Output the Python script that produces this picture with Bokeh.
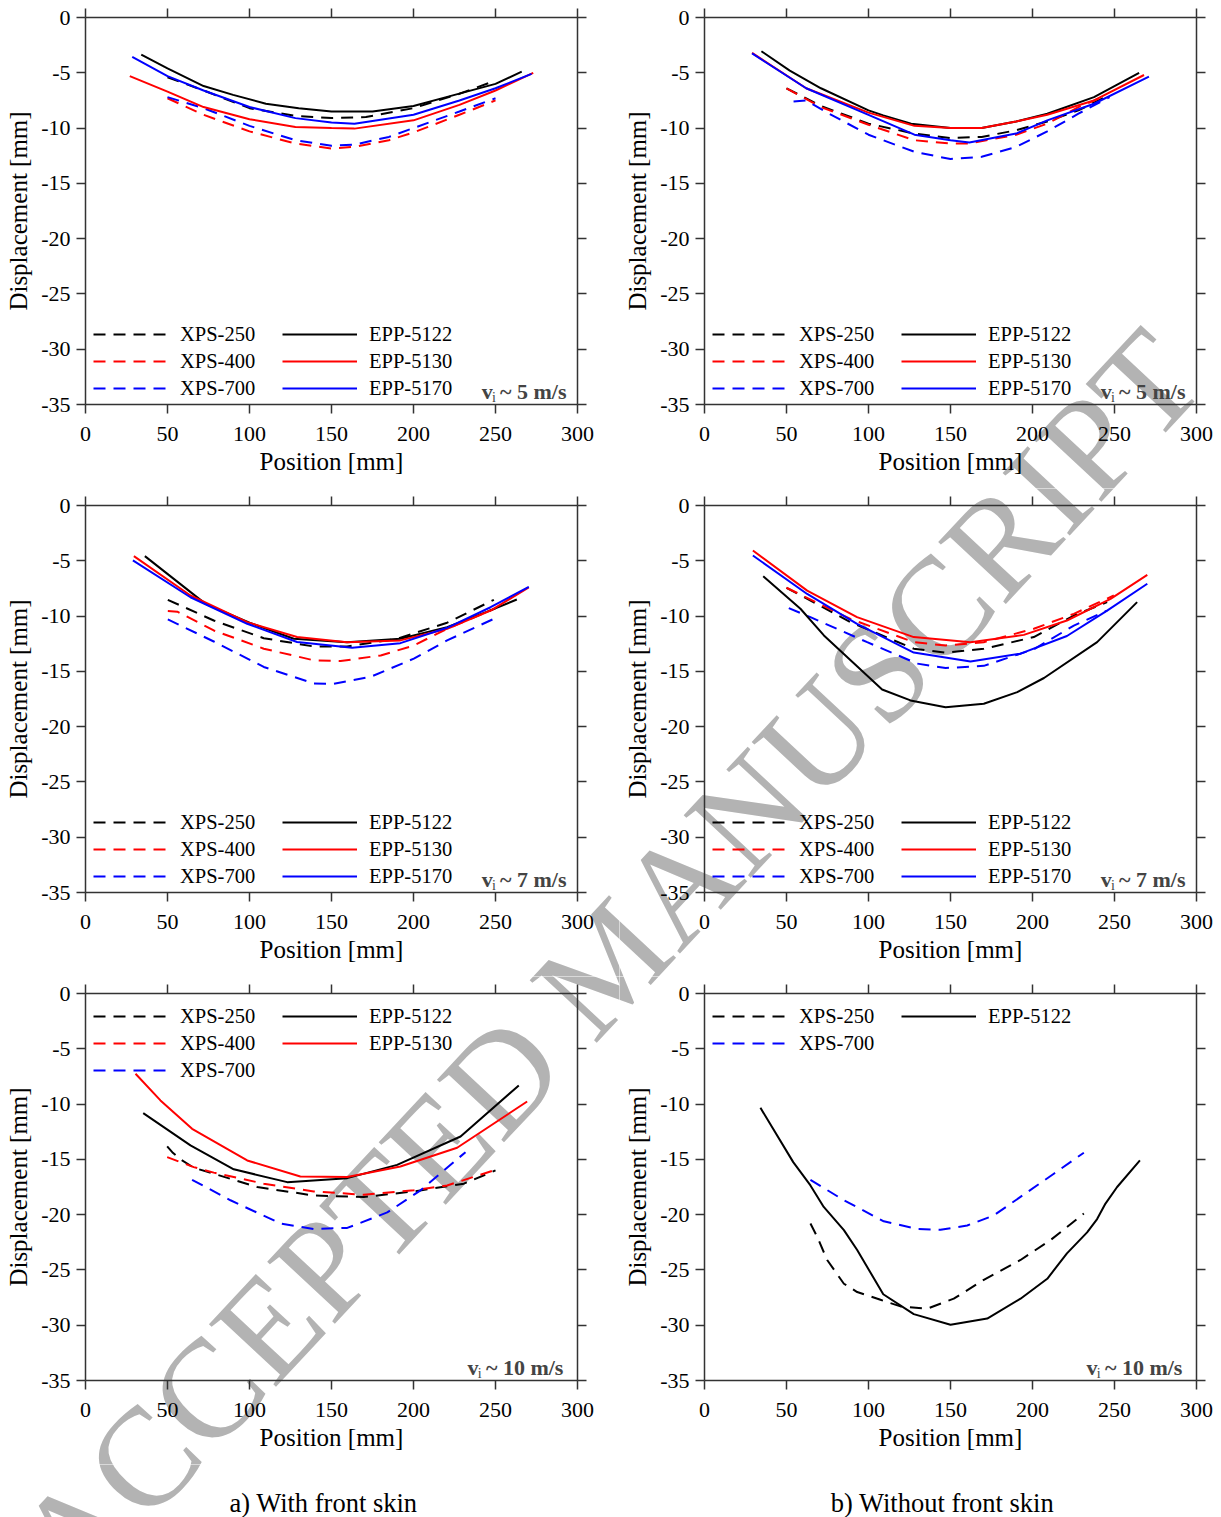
import math
from bokeh.plotting import figure
from bokeh.models import Range1d, LinearAxis, FixedTicker, Legend, LegendItem, Label
from bokeh.layouts import column, row
from bokeh.embed import file_html
from bokeh.resources import INLINE

# ---------------- ticks ----------------
x_ticks = [0, 50, 100, 150, 200, 250, 300]
x_tick_labels = ["0", "50", "100", "150", "200", "250", "300"]
y_ticks = [0, -5, -10, -15, -20, -25, -30, -35]
y_tick_labels = ["0", "-5", "-10", "-15", "-20", "-25", "-30", "-35"]

# ---------------- a) with front skin, v ~ 5 m/s ----------------
w5_xps250_x = [50, 72, 100, 128, 150, 171, 200, 228, 250]
w5_xps250_y = [-5.4, -6.6, -8.2, -8.9, -9.1, -9.0, -8.2, -6.9, -5.7]
w5_xps400_x = [50, 72, 100, 128, 150, 164, 185, 200, 228, 250]
w5_xps400_y = [-7.3, -8.8, -10.3, -11.4, -11.85, -11.7, -11.1, -10.4, -8.8, -7.5]
w5_xps700_x = [50, 72, 100, 128, 150, 164, 185, 200, 228, 250]
w5_xps700_y = [-7.2, -8.2, -9.8, -11.1, -11.6, -11.5, -10.8, -10.0, -8.5, -7.3]
w5_epp5122_x = [34, 50, 72, 90, 110, 130, 150, 175, 200, 220, 250, 266]
w5_epp5122_y = [-3.35, -4.6, -6.2, -7.0, -7.8, -8.2, -8.5, -8.5, -8.0, -7.2, -6.0, -4.9]
w5_epp5130_x = [27, 50, 72, 100, 128, 150, 164, 200, 228, 250, 273]
w5_epp5130_y = [-5.3, -6.7, -8.1, -9.2, -9.9, -10.0, -10.05, -9.3, -7.9, -6.6, -5.0]
w5_epp5170_x = [28.5, 50, 72, 100, 128, 150, 164, 200, 228, 250, 272]
w5_epp5170_y = [-3.55, -5.3, -6.6, -8.1, -9.1, -9.5, -9.6, -8.8, -7.5, -6.4, -5.1]

# ---------------- b) without front skin, v ~ 5 m/s ----------------
o5_xps250_x = [50, 71, 100, 128, 150, 169, 190, 209, 228, 247]
o5_xps250_y = [-6.4, -8.0, -9.6, -10.5, -10.9, -10.8, -10.2, -9.4, -8.4, -7.0]
o5_xps400_x = [50, 71, 100, 128, 150, 161.5, 190, 209, 228, 245]
o5_xps400_y = [-6.4, -8.1, -9.7, -11.1, -11.4, -11.4, -10.6, -9.6, -8.1, -7.05]
o5_xps700_x = [54.3, 62, 76, 100, 128, 150, 169, 190, 209, 228, 247]
o5_xps700_y = [-7.6, -7.5, -8.7, -10.6, -12.15, -12.8, -12.6, -11.7, -10.3, -8.7, -7.2]
o5_epp5122_x = [34.7, 52, 71, 100, 109, 126, 150, 169, 190, 209, 237.5, 265]
o5_epp5122_y = [-3.05, -4.8, -6.4, -8.4, -8.85, -9.6, -10.0, -10.0, -9.4, -8.7, -7.2, -5.0]
o5_epp5130_x = [29, 62, 100, 128, 150, 169, 190, 209, 237.5, 268]
o5_epp5130_y = [-3.2, -6.4, -8.6, -9.8, -10.0, -10.0, -9.4, -8.8, -7.5, -5.2]
o5_epp5170_x = [29, 62, 100, 128, 150, 161.5, 190, 209, 237.5, 271]
o5_epp5170_y = [-3.25, -6.4, -8.8, -10.6, -11.1, -11.3, -10.5, -9.3, -7.8, -5.35]

# ---------------- a) with front skin, v ~ 7 m/s ----------------
w7_xps250_x = [50.2, 78.2, 108.7, 139.2, 159.5, 190, 220.5, 249]
w7_xps250_y = [-8.53, -10.4, -12.0, -12.75, -12.75, -12.05, -10.6, -8.53]
w7_xps400_x = [50.2, 56, 78.2, 108.7, 139.2, 155.5, 180, 200.2, 220.5, 250]
w7_xps400_y = [-9.55, -9.6, -11.3, -12.95, -14.0, -14.07, -13.56, -12.66, -11.15, -9.3]
w7_xps700_x = [50.2, 78.2, 108.7, 139.2, 151.4, 173.8, 200.2, 220.5, 249]
w7_xps700_y = [-10.3, -12.3, -14.6, -16.1, -16.12, -15.5, -13.85, -12.2, -10.25]
w7_epp5122_x = [36.2, 73.2, 100, 127, 159.5, 192, 220.5, 245, 263]
w7_epp5122_y = [-4.58, -8.9, -10.6, -12.05, -12.36, -12.05, -11.0, -9.6, -8.5]
w7_epp5130_x = [29.5, 64, 98.6, 129, 159.5, 192, 220.5, 247, 270.3]
w7_epp5130_y = [-4.58, -8.14, -10.55, -11.9, -12.36, -12.2, -11.15, -9.5, -7.4]
w7_epp5170_x = [28.9, 64, 98.6, 129, 162.6, 192, 220.5, 247, 270.3]
w7_epp5170_y = [-4.97, -8.3, -10.7, -12.35, -12.87, -12.45, -11.06, -9.2, -7.35]

# ---------------- b) without front skin, v ~ 7 m/s ----------------
o7_xps250_x = [50, 89, 127.6, 147, 170.3, 200.8, 225.2, 245.5]
o7_xps250_y = [-7.44, -10.55, -12.95, -13.32, -12.96, -11.9, -9.95, -8.74]
o7_xps400_x = [50, 89, 127.6, 147, 170.3, 200.8, 225.2, 249.6]
o7_xps400_y = [-7.44, -10.26, -12.36, -12.66, -12.36, -11.15, -9.8, -8.14]
o7_xps700_x = [51.4, 64.6, 99.2, 129.7, 147, 170.3, 200.8, 225.2, 245.5]
o7_xps700_y = [-9.28, -10.1, -12.36, -14.3, -14.7, -14.5, -13.0, -10.86, -9.5]
o7_epp5122_x = [35.8, 58.5, 72.8, 108.3, 125.6, 147, 170.3, 190.7, 207, 239.4, 263.8]
o7_epp5122_y = [-6.39, -9.34, -11.75, -16.64, -17.63, -18.24, -17.93, -16.88, -15.6, -12.36, -8.74]
o7_epp5130_x = [29.5, 62.6, 93, 127.6, 162.2, 194.7, 221, 247.6, 270]
o7_epp5130_y = [-4.07, -7.7, -10.1, -11.9, -12.36, -11.7, -10.4, -8.44, -6.27]
o7_epp5170_x = [29.5, 62.6, 93, 127.6, 162.2, 192.7, 221, 245.5, 270]
o7_epp5170_y = [-4.52, -8.0, -10.7, -13.3, -14.1, -13.4, -11.8, -9.5, -7.08]

# ---------------- a) with front skin, v ~ 10 m/s ----------------
w10_xps250_x = [49.8, 52.9, 58, 66, 78.2, 104.7, 139.2, 169.7, 200.2, 230.7, 250]
w10_xps250_y = [-13.83, -14.35, -15.0, -15.76, -16.3, -17.5, -18.27, -18.41, -17.9, -17.2, -16.0]
w10_xps400_x = [49.8, 66, 78.2, 108.7, 139.2, 169.7, 200.2, 220.5, 250]
w10_xps400_y = [-14.8, -15.7, -16.2, -17.2, -17.9, -18.2, -17.8, -17.36, -15.95]
w10_xps700_x = [65, 88.4, 118.9, 139.2, 159.6, 184, 204.3, 231.7]
w10_xps700_y = [-16.85, -18.7, -20.8, -21.3, -21.2, -19.8, -17.8, -14.35]
w10_epp5122_x = [35.2, 64, 90.4, 123, 159.6, 190, 228.7, 264.2]
w10_epp5122_y = [-10.82, -13.74, -15.9, -17.06, -16.7, -15.5, -12.93, -8.32]
w10_epp5130_x = [30.5, 45.7, 65, 98.6, 131, 159.6, 192, 226.6, 269.3]
w10_epp5130_y = [-7.26, -9.67, -12.24, -15.1, -16.55, -16.6, -15.64, -13.95, -9.77]

# ---------------- b) without front skin, v ~ 10 m/s ----------------
o10_xps250_x = [64.6, 68.7, 74.8, 85, 93.1, 107.3, 119.5, 135.8, 152, 170.3, 192.7, 211, 231.3]
o10_xps250_y = [-20.8, -22.0, -24.1, -26.25, -27.0, -27.7, -28.3, -28.5, -27.6, -25.9, -24.1, -22.3, -19.9]
o10_xps700_x = [64.6, 85, 109.3, 129.7, 143.9, 160.2, 176.4, 196.8, 213, 231.3]
o10_xps700_y = [-16.85, -18.7, -20.6, -21.3, -21.37, -20.98, -20.07, -17.97, -16.3, -14.4]
o10_epp5122_x = [34.1, 54.1, 64.6, 72.7, 85, 93.1, 109, 127.6, 150, 172.4, 192.7, 209, 221,
                 233.3, 239.4, 244.5, 251.6, 265.5]
o10_epp5122_y = [-10.34, -15.25, -17.36, -19.3, -21.4, -23.2, -27.2, -29.0, -29.96, -29.4, -27.6,
                 -25.8, -23.5, -21.6, -20.4, -19.0, -17.5, -15.1]

captions = ["a) With front skin", "b) Without front skin"]
speeds = ["5", "7", "10"]
watermark_text = "ACCEPTED MANUSCRIPT"

# ---------------- styling / geometry ----------------
FONT = "Liberation Serif"
AX = "#333333"
AXW = 1.5
DASH = "12 8"
COL = {"XPS-250": ("#000000", DASH), "XPS-400": ("#ff0000", DASH), "XPS-700": ("#0000ff", DASH),
       "EPP-5122": ("#000000", "solid"), "EPP-5130": ("#ff0000", "solid"), "EPP-5170": ("#0000ff", "solid")}

X0, X1, Y0, Y1 = 0, 300, -35, 0          # plotted data window
PL, PT, PW, PH = 85, 17, 492, 387         # plot rectangle inside each panel canvas (px)
SX, SY = PW / (X1 - X0), PH / (Y1 - Y0)    # px per data unit
TICK = 9

# watermark (page coordinates)
WM_CX, WM_CY = 608, 960
WM_ANGLE = math.radians(47)
WM_SIZE = "140px"
WM_COLOR = "#b3b3b3"


def add_watermark(p, fx, fy):
    p.add_layout(Label(x=WM_CX - fx, y=WM_CY - fy, x_units="canvas", y_units="canvas",
                       text=watermark_text, angle=WM_ANGLE, text_align="center",
                       text_baseline="middle", text_font=FONT, text_font_size=WM_SIZE,
                       text_color=WM_COLOR, level="underlay"))


def style_axis(ax, ticks, labels, loc, bounds, show_labels):
    ax.fixed_location = loc
    ax.bounds = bounds
    ax.ticker = FixedTicker(ticks=ticks)
    ax.major_label_overrides = {t: l for t, l in zip(ticks, labels)}
    ax.major_tick_out = TICK
    ax.major_tick_in = 0
    ax.minor_tick_line_color = None
    ax.axis_line_color = AX
    ax.axis_line_width = AXW
    ax.major_tick_line_color = AX
    ax.major_tick_line_width = AXW
    ax.major_label_text_font = FONT
    ax.major_label_text_font_size = "22px"
    ax.major_label_text_color = "#000000" if show_labels else None
    ax.axis_label_text_font = FONT
    ax.axis_label_text_font_size = "25px"
    ax.axis_label_text_font_style = "normal"
    ax.axis_label_text_color = "#000000"


def panel(series, speed, legend_top, fx, fy, w, h):
    xr = Range1d(X0 - PL / SX, X1 + (w - PL - PW) / SX)
    yr = Range1d(Y0 - (h - PT - PH) / SY, Y1 + PT / SY)
    p = figure(width=w, height=h, x_range=xr, y_range=yr, toolbar_location=None,
               output_backend="svg", min_border=0)
    p.outline_line_color = None
    p.xgrid.visible = False
    p.ygrid.visible = False
    p.background_fill_color = "white"
    p.border_fill_color = "white"
    add_watermark(p, fx, fy)

    style_axis(p.xaxis[0], x_ticks, x_tick_labels, Y0, (X0, X1), True)
    style_axis(p.yaxis[0], y_ticks, y_tick_labels, X0, (Y0, Y1), True)
    p.xaxis[0].major_label_standoff = 13
    p.yaxis[0].major_label_standoff = 6
    p.xaxis[0].axis_label = "Position [mm]"
    p.yaxis[0].axis_label = "Displacement [mm]"
    p.xaxis[0].axis_label_standoff = 4
    p.yaxis[0].axis_label_standoff = 6

    top = LinearAxis()
    style_axis(top, x_ticks, x_tick_labels, Y1, (X0, X1), False)
    p.add_layout(top, "above")
    rgt = LinearAxis()
    style_axis(rgt, y_ticks, y_tick_labels, X1, (Y0, Y1), False)
    p.add_layout(rgt, "right")

    left_items, right_items = [], []
    for name, xs, ys in series:
        c, d = COL[name]
        r = p.line(xs, ys, line_color=c, line_width=2, line_dash=d)
        (left_items if name.startswith("XPS") else right_items).append(LegendItem(label=name, renderers=[r]))

    item_h, gap = 23, 4
    base = h - PT - PH   # canvas px below the plot rectangle
    for items, vx in ((left_items, PL + 8), (right_items, PL + 197)):
        n = len(items)
        hgt = n * item_h + (n - 1) * gap
        vy = (base + PH - 11.5 - hgt) if legend_top else base + 4.5
        leg = Legend(items=items, location=(vx, vy), label_text_font=FONT,
                     label_text_font_size="20.5px", label_text_color="#000000",
                     glyph_width=75, glyph_height=20, label_height=20, label_standoff=12,
                     spacing=gap, padding=0, margin=0, border_line_color=None,
                     background_fill_alpha=0)
        p.add_layout(leg)

    # v_i ~ N m/s
    vx0 = 241.6 if speed != "10" else 233.0
    p.add_layout(Label(x=vx0, y=-33.8, text="v", text_font=FONT, text_font_style="bold",
                       text_font_size="22px", text_baseline="alphabetic"))
    p.add_layout(Label(x=vx0 + 6.2, y=-34.4, text="i", text_font=FONT,
                       text_font_size="14px", text_baseline="alphabetic"))
    p.add_layout(Label(x=vx0 + 11.2, y=-33.8, text="~ %s m/s" % speed, text_font=FONT,
                       text_font_style="bold", text_font_size="22px", text_baseline="alphabetic"))
    return p


LW, RW = 619, 602
H = 488

p1 = panel([("XPS-250", w5_xps250_x, w5_xps250_y), ("XPS-400", w5_xps400_x, w5_xps400_y),
            ("XPS-700", w5_xps700_x, w5_xps700_y), ("EPP-5122", w5_epp5122_x, w5_epp5122_y),
            ("EPP-5130", w5_epp5130_x, w5_epp5130_y), ("EPP-5170", w5_epp5170_x, w5_epp5170_y)],
           speeds[0], False, 0, 0, LW, H)
p2 = panel([("XPS-250", o5_xps250_x, o5_xps250_y), ("XPS-400", o5_xps400_x, o5_xps400_y),
            ("XPS-700", o5_xps700_x, o5_xps700_y), ("EPP-5122", o5_epp5122_x, o5_epp5122_y),
            ("EPP-5130", o5_epp5130_x, o5_epp5130_y), ("EPP-5170", o5_epp5170_x, o5_epp5170_y)],
           speeds[0], False, LW, 0, RW, H)
p3 = panel([("XPS-250", w7_xps250_x, w7_xps250_y), ("XPS-400", w7_xps400_x, w7_xps400_y),
            ("XPS-700", w7_xps700_x, w7_xps700_y), ("EPP-5122", w7_epp5122_x, w7_epp5122_y),
            ("EPP-5130", w7_epp5130_x, w7_epp5130_y), ("EPP-5170", w7_epp5170_x, w7_epp5170_y)],
           speeds[1], False, 0, H, LW, H)
p4 = panel([("XPS-250", o7_xps250_x, o7_xps250_y), ("XPS-400", o7_xps400_x, o7_xps400_y),
            ("XPS-700", o7_xps700_x, o7_xps700_y), ("EPP-5122", o7_epp5122_x, o7_epp5122_y),
            ("EPP-5130", o7_epp5130_x, o7_epp5130_y), ("EPP-5170", o7_epp5170_x, o7_epp5170_y)],
           speeds[1], False, LW, H, RW, H)
p5 = panel([("XPS-250", w10_xps250_x, w10_xps250_y), ("XPS-400", w10_xps400_x, w10_xps400_y),
            ("XPS-700", w10_xps700_x, w10_xps700_y), ("EPP-5122", w10_epp5122_x, w10_epp5122_y),
            ("EPP-5130", w10_epp5130_x, w10_epp5130_y)],
           speeds[2], True, 0, 2 * H, LW, H)
p6 = panel([("XPS-250", o10_xps250_x, o10_xps250_y), ("XPS-700", o10_xps700_x, o10_xps700_y),
            ("EPP-5122", o10_epp5122_x, o10_epp5122_y)],
           speeds[2], True, LW, 2 * H, RW, H)

CAP_Y0 = 3 * H
CAP_H = 1517 - CAP_Y0
cap = figure(width=LW + RW, height=CAP_H, x_range=Range1d(0, LW + RW), y_range=Range1d(CAP_H, 0),
             toolbar_location=None, output_backend="svg", min_border=0,
             x_axis_location=None, y_axis_location=None)
cap.outline_line_color = None
cap.xgrid.visible = False
cap.ygrid.visible = False
add_watermark(cap, 0, CAP_Y0)
for txt, cx in zip(captions, (323, 942)):
    cap.add_layout(Label(x=cx, y=1502 - CAP_Y0, text=txt, text_align="center",
                         text_baseline="alphabetic", text_font=FONT, text_font_size="26.5px",
                         text_color="#000000"))

layout = column(row(p1, p2), row(p3, p4), row(p5, p6), cap)
open("out.html", "w").write(file_html(layout, INLINE))
